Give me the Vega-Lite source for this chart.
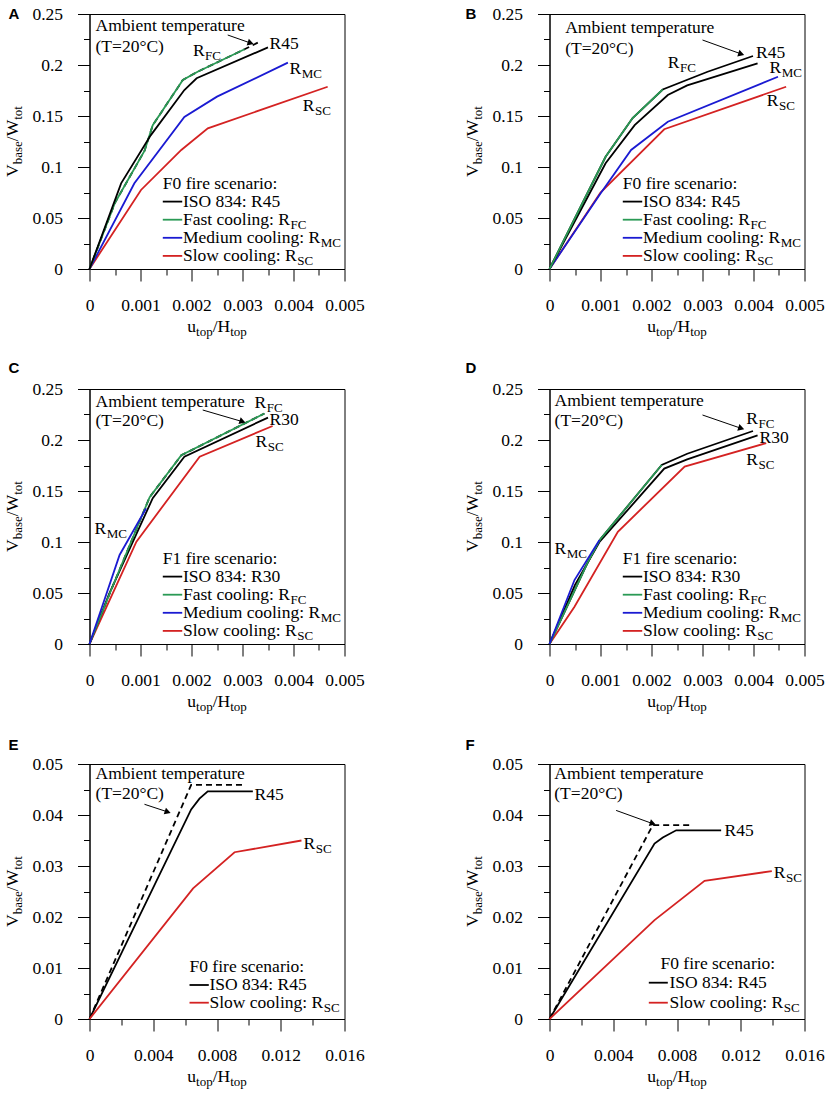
{
  "$schema": "https://vega.github.io/schema/vega-lite/v6.json",
  "background": "white",
  "padding": {"left": 2.5, "top": 4, "right": 5, "bottom": 5},
  "columns": 2,
  "spacing": {"row": 120, "column": 205},
  "bounds": "flush",
  "datasets": {
    "A_lines": [
      {"s": "amb", "x": 0, "y": 0}, {"s": "amb", "x": 0.0005, "y": 0.065}, {"s": "amb", "x": 0.00108, "y": 0.116}, {"s": "amb", "x": 0.00124, "y": 0.141}, {"s": "amb", "x": 0.00183, "y": 0.1853}, {"s": "amb", "x": 0.00212, "y": 0.1934}, {"s": "amb", "x": 0.00304, "y": 0.2154}, {"s": "amb", "x": 0.0033, "y": 0.2219},
      {"s": "sc", "x": 0, "y": 0}, {"s": "sc", "x": 0.00101, "y": 0.0775}, {"s": "sc", "x": 0.0018, "y": 0.1167}, {"s": "sc", "x": 0.00232, "y": 0.1379}, {"s": "sc", "x": 0.00467, "y": 0.1787},
      {"s": "mc", "x": 0, "y": 0}, {"s": "mc", "x": 0.00088, "y": 0.084}, {"s": "mc", "x": 0.00186, "y": 0.149}, {"s": "mc", "x": 0.0025, "y": 0.169}, {"s": "mc", "x": 0.00389, "y": 0.2023},
      {"s": "fc", "x": 0, "y": 0}, {"s": "fc", "x": 0.0005, "y": 0.065}, {"s": "fc", "x": 0.00108, "y": 0.116}, {"s": "fc", "x": 0.00124, "y": 0.141}, {"s": "fc", "x": 0.00183, "y": 0.1853}, {"s": "fc", "x": 0.00212, "y": 0.1934}, {"s": "fc", "x": 0.00304, "y": 0.2154},
      {"s": "iso", "x": 0, "y": 0}, {"s": "iso", "x": 0.00062, "y": 0.084}, {"s": "iso", "x": 0.0012, "y": 0.131}, {"s": "iso", "x": 0.00186, "y": 0.1755}, {"s": "iso", "x": 0.0021, "y": 0.187}, {"s": "iso", "x": 0.0035, "y": 0.2173}
    ],
    "B_lines": [
      {"s": "amb", "x": 0, "y": 0}, {"s": "amb", "x": 0.0011, "y": 0.11}, {"s": "amb", "x": 0.00163, "y": 0.148}, {"s": "amb", "x": 0.00222, "y": 0.176}, {"s": "amb", "x": 0.0031, "y": 0.1934}, {"s": "amb", "x": 0.00399, "y": 0.2088},
      {"s": "sc", "x": 0, "y": 0}, {"s": "sc", "x": 0.001, "y": 0.075}, {"s": "sc", "x": 0.00225, "y": 0.137}, {"s": "sc", "x": 0.00464, "y": 0.1787},
      {"s": "mc", "x": 0, "y": 0}, {"s": "mc", "x": 0.001, "y": 0.074}, {"s": "mc", "x": 0.0016, "y": 0.1167}, {"s": "mc", "x": 0.00232, "y": 0.1444}, {"s": "mc", "x": 0.00448, "y": 0.1885},
      {"s": "iso", "x": 0, "y": 0}, {"s": "iso", "x": 0.0011, "y": 0.1036}, {"s": "iso", "x": 0.00167, "y": 0.141}, {"s": "iso", "x": 0.00232, "y": 0.1706}, {"s": "iso", "x": 0.0027, "y": 0.18}, {"s": "iso", "x": 0.00408, "y": 0.2016},
      {"s": "fc", "x": 0, "y": 0}, {"s": "fc", "x": 0.0011, "y": 0.11}, {"s": "fc", "x": 0.00163, "y": 0.148}, {"s": "fc", "x": 0.00222, "y": 0.176}
    ],
    "C_lines": [
      {"s": "amb", "x": 0, "y": 0}, {"s": "amb", "x": 0.0004, "y": 0.05}, {"s": "amb", "x": 0.00118, "y": 0.144}, {"s": "amb", "x": 0.0018, "y": 0.185}, {"s": "amb", "x": 0.00343, "y": 0.226},
      {"s": "sc", "x": 0, "y": 0}, {"s": "sc", "x": 0.00092, "y": 0.1003}, {"s": "sc", "x": 0.00216, "y": 0.1837}, {"s": "sc", "x": 0.00359, "y": 0.2137},
      {"s": "iso", "x": 0, "y": 0}, {"s": "iso", "x": 0.00039, "y": 0.0497}, {"s": "iso", "x": 0.00124, "y": 0.143}, {"s": "iso", "x": 0.00186, "y": 0.1837}, {"s": "iso", "x": 0.0035, "y": 0.222},
      {"s": "fc", "x": 0, "y": 0}, {"s": "fc", "x": 0.0004, "y": 0.05}, {"s": "fc", "x": 0.00118, "y": 0.144}, {"s": "fc", "x": 0.0018, "y": 0.185}, {"s": "fc", "x": 0.00343, "y": 0.226},
      {"s": "mc", "x": 0, "y": 0}, {"s": "mc", "x": 0.00059, "y": 0.0873}, {"s": "mc", "x": 0.00111, "y": 0.133}
    ],
    "D_lines": [
      {"s": "amb", "x": 0, "y": 0}, {"s": "amb", "x": 0.00075, "y": 0.08}, {"s": "amb", "x": 0.001, "y": 0.103}, {"s": "amb", "x": 0.0022, "y": 0.1755}, {"s": "amb", "x": 0.0027, "y": 0.1865}, {"s": "amb", "x": 0.00399, "y": 0.2088},
      {"s": "sc", "x": 0, "y": 0}, {"s": "sc", "x": 0.00049, "y": 0.0366}, {"s": "sc", "x": 0.00134, "y": 0.11}, {"s": "sc", "x": 0.00265, "y": 0.174}, {"s": "sc", "x": 0.00425, "y": 0.197},
      {"s": "iso", "x": 0, "y": 0}, {"s": "iso", "x": 0.0005, "y": 0.058}, {"s": "iso", "x": 0.00098, "y": 0.1}, {"s": "iso", "x": 0.00225, "y": 0.172}, {"s": "iso", "x": 0.0027, "y": 0.181}, {"s": "iso", "x": 0.00408, "y": 0.2045},
      {"s": "fc", "x": 0, "y": 0}, {"s": "fc", "x": 0.00075, "y": 0.08}, {"s": "fc", "x": 0.001, "y": 0.103}, {"s": "fc", "x": 0.0022, "y": 0.1755},
      {"s": "mc", "x": 0, "y": 0}, {"s": "mc", "x": 0.00049, "y": 0.0627}, {"s": "mc", "x": 0.00098, "y": 0.102}
    ],
    "E_lines": [
      {"s": "amb", "x": 0, "y": 0}, {"s": "amb", "x": 0.00638, "y": 0.0459}, {"s": "amb", "x": 0.0098, "y": 0.0459},
      {"s": "iso", "x": 0, "y": 0}, {"s": "iso", "x": 0.00638, "y": 0.0411}, {"s": "iso", "x": 0.0069, "y": 0.0432}, {"s": "iso", "x": 0.00742, "y": 0.04465}, {"s": "iso", "x": 0.01025, "y": 0.04465},
      {"s": "sc", "x": 0, "y": 0}, {"s": "sc", "x": 0.0065, "y": 0.0256}, {"s": "sc", "x": 0.0091, "y": 0.0327}, {"s": "sc", "x": 0.0133, "y": 0.035}
    ],
    "F_lines": [
      {"s": "amb", "x": 0, "y": 0}, {"s": "amb", "x": 0.00648, "y": 0.038}, {"s": "amb", "x": 0.00889, "y": 0.038},
      {"s": "iso", "x": 0, "y": 0}, {"s": "iso", "x": 0.00659, "y": 0.0344}, {"s": "iso", "x": 0.00711, "y": 0.0356}, {"s": "iso", "x": 0.00795, "y": 0.037}, {"s": "iso", "x": 0.01077, "y": 0.037},
      {"s": "sc", "x": 0, "y": 0}, {"s": "sc", "x": 0.00659, "y": 0.0194}, {"s": "sc", "x": 0.00973, "y": 0.0271}, {"s": "sc", "x": 0.01395, "y": 0.029}
    ],
    "AD_leg": [
      {"s": "iso", "x": 0.001437, "x2": 0.001818, "y": 0.06608},
      {"s": "fc", "x": 0.001437, "x2": 0.001818, "y": 0.04833},
      {"s": "mc", "x": 0.001437, "x2": 0.001818, "y": 0.03059},
      {"s": "sc", "x": 0.001437, "x2": 0.001818, "y": 0.01284}
    ],
    "E_leg": [
      {"s": "iso", "x": 0.006275, "x2": 0.007485, "y": 0.006667},
      {"s": "sc", "x": 0.006275, "x2": 0.007485, "y": 0.003196}
    ],
    "F_leg": [
      {"s": "iso", "x": 0.006231, "x2": 0.007423, "y": 0.007118},
      {"s": "sc", "x": 0.006231, "x2": 0.007423, "y": 0.003196}
    ],
    "A_arr": [{"x": 0.00271, "y": 0.2294, "e": 0}, {"x": 0.00316, "y": 0.2215, "e": 1}],
    "B_arr": [{"x": 0.003, "y": 0.2245, "e": 0}, {"x": 0.00376, "y": 0.2108, "e": 1}],
    "C_arr": [{"x": 0.00222, "y": 0.2294, "e": 0}, {"x": 0.003, "y": 0.218, "e": 1}],
    "D_arr": [{"x": 0.003, "y": 0.2245, "e": 0}, {"x": 0.00376, "y": 0.2114, "e": 1}],
    "E_arr": [{"x": 0.00345, "y": 0.0421, "e": 0}, {"x": 0.00491, "y": 0.0406, "e": 1}],
    "F_arr": [{"x": 0.00418, "y": 0.0409, "e": 0}, {"x": 0.00648, "y": 0.0383, "e": 1}],
    "A_txt": [
      {"p": "L", "x": -0.001588, "y": 0.25, "t": "A"},
      {"p": "yt", "x": -0.001504, "y": 0.0903, "t": "V"}, {"p": "ys", "x": -0.001504, "y": 0.1027, "t": "base"}, {"p": "yt", "x": -0.001504, "y": 0.1253, "t": "/W"}, {"p": "ys", "x": -0.001504, "y": 0.1463, "t": "tot"},
      {"p": "t", "x": 0.001918, "y": -0.05686, "t": "u"}, {"p": "s", "x": 0.002089, "y": -0.05686, "t": "top"}, {"p": "t", "x": 0.002415, "y": -0.05686, "t": "/H"}, {"p": "s", "x": 0.002758, "y": -0.05686, "t": "top"},
      {"p": "t", "x": 0.000118, "y": 0.2382, "t": "Ambient temperature"},
      {"p": "t", "x": 0.000118, "y": 0.218, "t": "(T=20°C)"},
      {"p": "t", "x": 0.00203, "y": 0.2135, "t": "R"}, {"p": "s", "x": 0.002264, "y": 0.2135, "t": "FC"},
      {"p": "t", "x": 0.00353, "y": 0.2205, "t": "R45"},
      {"p": "t", "x": 0.00392, "y": 0.196, "t": "R"}, {"p": "s", "x": 0.00416, "y": 0.196, "t": "MC"},
      {"p": "t", "x": 0.00418, "y": 0.16, "t": "R"}, {"p": "s", "x": 0.004421, "y": 0.16, "t": "SC"},
      {"p": "t", "x": 0.001437, "y": 0.0838, "t": "F0 fire scenario:"},
      {"p": "t", "x": 0.001833, "y": 0.06608, "t": "ISO 834: R45"},
      {"p": "t", "x": 0.001833, "y": 0.04833, "t": "Fast cooling: R"}, {"p": "s", "x": 0.003941, "y": 0.04833, "t": "FC"},
      {"p": "t", "x": 0.001833, "y": 0.03059, "t": "Medium cooling: R"}, {"p": "s", "x": 0.004532, "y": 0.03059, "t": "MC"},
      {"p": "t", "x": 0.001833, "y": 0.01284, "t": "Slow cooling: R"}, {"p": "s", "x": 0.004075, "y": 0.01284, "t": "SC"}
    ],
    "B_txt": [
      {"p": "L", "x": -0.001647, "y": 0.25, "t": "B"},
      {"p": "yt", "x": -0.001504, "y": 0.0903, "t": "V"}, {"p": "ys", "x": -0.001504, "y": 0.1027, "t": "base"}, {"p": "yt", "x": -0.001504, "y": 0.1253, "t": "/W"}, {"p": "ys", "x": -0.001504, "y": 0.1463, "t": "tot"},
      {"p": "t", "x": 0.001918, "y": -0.05686, "t": "u"}, {"p": "s", "x": 0.002089, "y": -0.05686, "t": "top"}, {"p": "t", "x": 0.002415, "y": -0.05686, "t": "/H"}, {"p": "s", "x": 0.002758, "y": -0.05686, "t": "top"},
      {"p": "t", "x": 0.000308, "y": 0.236, "t": "Ambient temperature"},
      {"p": "t", "x": 0.000308, "y": 0.216, "t": "(T=20°C)"},
      {"p": "t", "x": 0.00232, "y": 0.2016, "t": "R"}, {"p": "s", "x": 0.002558, "y": 0.2016, "t": "FC"},
      {"p": "t", "x": 0.00405, "y": 0.2114, "t": "R45"},
      {"p": "t", "x": 0.004314, "y": 0.1967, "t": "R"}, {"p": "s", "x": 0.004553, "y": 0.1967, "t": "MC"},
      {"p": "t", "x": 0.00426, "y": 0.165, "t": "R"}, {"p": "s", "x": 0.004499, "y": 0.165, "t": "SC"},
      {"p": "t", "x": 0.001437, "y": 0.0838, "t": "F0 fire scenario:"},
      {"p": "t", "x": 0.001833, "y": 0.06608, "t": "ISO 834: R45"},
      {"p": "t", "x": 0.001833, "y": 0.04833, "t": "Fast cooling: R"}, {"p": "s", "x": 0.003941, "y": 0.04833, "t": "FC"},
      {"p": "t", "x": 0.001833, "y": 0.03059, "t": "Medium cooling: R"}, {"p": "s", "x": 0.004532, "y": 0.03059, "t": "MC"},
      {"p": "t", "x": 0.001833, "y": 0.01284, "t": "Slow cooling: R"}, {"p": "s", "x": 0.004075, "y": 0.01284, "t": "SC"}
    ],
    "C_txt": [
      {"p": "L", "x": -0.001588, "y": 0.2706, "t": "C"},
      {"p": "yt", "x": -0.001504, "y": 0.0903, "t": "V"}, {"p": "ys", "x": -0.001504, "y": 0.1027, "t": "base"}, {"p": "yt", "x": -0.001504, "y": 0.1253, "t": "/W"}, {"p": "ys", "x": -0.001504, "y": 0.1463, "t": "tot"},
      {"p": "t", "x": 0.001918, "y": -0.05686, "t": "u"}, {"p": "s", "x": 0.002089, "y": -0.05686, "t": "top"}, {"p": "t", "x": 0.002415, "y": -0.05686, "t": "/H"}, {"p": "s", "x": 0.002758, "y": -0.05686, "t": "top"},
      {"p": "t", "x": 0.000118, "y": 0.2375, "t": "Ambient temperature"},
      {"p": "t", "x": 0.000118, "y": 0.2186, "t": "(T=20°C)"},
      {"p": "t", "x": 0.003235, "y": 0.2366, "t": "R"}, {"p": "s", "x": 0.003474, "y": 0.2366, "t": "FC"},
      {"p": "t", "x": 0.00353, "y": 0.2196, "t": "R30"},
      {"p": "t", "x": 0.003255, "y": 0.198, "t": "R"}, {"p": "s", "x": 0.003494, "y": 0.198, "t": "SC"},
      {"p": "t", "x": 0.000098, "y": 0.113, "t": "R"}, {"p": "s", "x": 0.000337, "y": 0.113, "t": "MC"},
      {"p": "t", "x": 0.001437, "y": 0.0838, "t": "F1 fire scenario:"},
      {"p": "t", "x": 0.001833, "y": 0.06608, "t": "ISO 834: R30"},
      {"p": "t", "x": 0.001833, "y": 0.04833, "t": "Fast cooling: R"}, {"p": "s", "x": 0.003941, "y": 0.04833, "t": "FC"},
      {"p": "t", "x": 0.001833, "y": 0.03059, "t": "Medium cooling: R"}, {"p": "s", "x": 0.004532, "y": 0.03059, "t": "MC"},
      {"p": "t", "x": 0.001833, "y": 0.01284, "t": "Slow cooling: R"}, {"p": "s", "x": 0.004075, "y": 0.01284, "t": "SC"}
    ],
    "D_txt": [
      {"p": "L", "x": -0.001647, "y": 0.2706, "t": "D"},
      {"p": "yt", "x": -0.001504, "y": 0.0903, "t": "V"}, {"p": "ys", "x": -0.001504, "y": 0.1027, "t": "base"}, {"p": "yt", "x": -0.001504, "y": 0.1253, "t": "/W"}, {"p": "ys", "x": -0.001504, "y": 0.1463, "t": "tot"},
      {"p": "t", "x": 0.001918, "y": -0.05686, "t": "u"}, {"p": "s", "x": 0.002089, "y": -0.05686, "t": "top"}, {"p": "t", "x": 0.002415, "y": -0.05686, "t": "/H"}, {"p": "s", "x": 0.002758, "y": -0.05686, "t": "top"},
      {"p": "t", "x": 0.0001, "y": 0.238, "t": "Ambient temperature"},
      {"p": "t", "x": 0.0001, "y": 0.2186, "t": "(T=20°C)"},
      {"p": "t", "x": 0.00386, "y": 0.2206, "t": "R"}, {"p": "s", "x": 0.004099, "y": 0.2206, "t": "FC"},
      {"p": "t", "x": 0.00412, "y": 0.2016, "t": "R30"},
      {"p": "t", "x": 0.00386, "y": 0.18, "t": "R"}, {"p": "s", "x": 0.004099, "y": 0.18, "t": "SC"},
      {"p": "t", "x": 0.0001, "y": 0.0928, "t": "R"}, {"p": "s", "x": 0.000339, "y": 0.0928, "t": "MC"},
      {"p": "t", "x": 0.001437, "y": 0.0838, "t": "F1 fire scenario:"},
      {"p": "t", "x": 0.001833, "y": 0.06608, "t": "ISO 834: R30"},
      {"p": "t", "x": 0.001833, "y": 0.04833, "t": "Fast cooling: R"}, {"p": "s", "x": 0.003941, "y": 0.04833, "t": "FC"},
      {"p": "t", "x": 0.001833, "y": 0.03059, "t": "Medium cooling: R"}, {"p": "s", "x": 0.004532, "y": 0.03059, "t": "MC"},
      {"p": "t", "x": 0.001833, "y": 0.01284, "t": "Slow cooling: R"}, {"p": "s", "x": 0.004075, "y": 0.01284, "t": "SC"}
    ],
    "E_txt": [
      {"p": "L", "x": -0.005082, "y": 0.05373, "t": "E"},
      {"p": "yt", "x": -0.004813, "y": 0.01806, "t": "V"}, {"p": "ys", "x": -0.004813, "y": 0.02054, "t": "base"}, {"p": "yt", "x": -0.004813, "y": 0.02507, "t": "/W"}, {"p": "ys", "x": -0.004813, "y": 0.02926, "t": "tot"},
      {"p": "t", "x": 0.006137, "y": -0.01137, "t": "u"}, {"p": "s", "x": 0.006686, "y": -0.01137, "t": "top"}, {"p": "t", "x": 0.007727, "y": -0.01137, "t": "/H"}, {"p": "s", "x": 0.008825, "y": -0.01137, "t": "top"},
      {"p": "t", "x": 0.00038, "y": 0.0481, "t": "Ambient temperature"},
      {"p": "t", "x": 0.00038, "y": 0.0441, "t": "(T=20°C)"},
      {"p": "t", "x": 0.01035, "y": 0.0439, "t": "R45"},
      {"p": "t", "x": 0.01343, "y": 0.0344, "t": "R"}, {"p": "s", "x": 0.01419, "y": 0.0344, "t": "SC"},
      {"p": "t", "x": 0.006275, "y": 0.010255, "t": "F0 fire scenario:"},
      {"p": "t", "x": 0.007529, "y": 0.006667, "t": "ISO 834: R45"},
      {"p": "t", "x": 0.007529, "y": 0.003196, "t": "Slow cooling: R"}, {"p": "s", "x": 0.0147, "y": 0.003196, "t": "SC"}
    ],
    "F_txt": [
      {"p": "L", "x": -0.005271, "y": 0.05373, "t": "F"},
      {"p": "yt", "x": -0.004813, "y": 0.01806, "t": "V"}, {"p": "ys", "x": -0.004813, "y": 0.02054, "t": "base"}, {"p": "yt", "x": -0.004813, "y": 0.02507, "t": "/W"}, {"p": "ys", "x": -0.004813, "y": 0.02926, "t": "tot"},
      {"p": "t", "x": 0.006137, "y": -0.01137, "t": "u"}, {"p": "s", "x": 0.006686, "y": -0.01137, "t": "top"}, {"p": "t", "x": 0.007727, "y": -0.01137, "t": "/H"}, {"p": "s", "x": 0.008825, "y": -0.01137, "t": "top"},
      {"p": "t", "x": 0.0003, "y": 0.0481, "t": "Ambient temperature"},
      {"p": "t", "x": 0.0003, "y": 0.0441, "t": "(T=20°C)"},
      {"p": "t", "x": 0.01098, "y": 0.0369, "t": "R45"},
      {"p": "t", "x": 0.01407, "y": 0.0286, "t": "R"}, {"p": "s", "x": 0.01484, "y": 0.0286, "t": "SC"},
      {"p": "t", "x": 0.006965, "y": 0.010784, "t": "F0 fire scenario:"},
      {"p": "t", "x": 0.007529, "y": 0.007118, "t": "ISO 834: R45"},
      {"p": "t", "x": 0.007529, "y": 0.003196, "t": "Slow cooling: R"}, {"p": "s", "x": 0.0147, "y": 0.003196, "t": "SC"}
    ]
  },
  "concat": [
    {
      "width": 255, "height": 255,
      "encoding": {
        "x": {"field": "x", "type": "quantitative", "scale": {"domain": [0, 0.005], "nice": false, "zero": false},
              "axis": {"title": null, "values": [0, 0.0005, 0.001, 0.0015, 0.002, 0.0025, 0.003, 0.0035, 0.004, 0.0045, 0.005], "labelExpr": "abs(datum.value*1000-round(datum.value*1000))<0.01 ? format(datum.value,'~g') : ''", "tickSize": {"condition": {"test": "abs(datum.value*1000-round(datum.value*1000))<0.01", "value": 12}, "value": 6}, "labelPadding": 15}},
        "y": {"field": "y", "type": "quantitative", "scale": {"domain": [0, 0.25], "nice": false, "zero": false},
              "axis": {"title": null, "values": [0, 0.025, 0.05, 0.075, 0.1, 0.125, 0.15, 0.175, 0.2, 0.225, 0.25], "labelExpr": "abs(datum.value*20-round(datum.value*20))<0.01 ? format(datum.value,'~g') : ''", "tickSize": {"condition": {"test": "abs(datum.value*20-round(datum.value*20))<0.01", "value": 12}, "value": 6}, "labelPadding": 15}}
      },
      "layer": [
        {"data": {"name": "A_lines"}, "transform": [{"filter": "datum.s == 'amb'"}], "mark": {"type": "line", "color": "black", "strokeWidth": 1.8, "strokeDash": [6, 4]}, "encoding": {}},
        {"data": {"name": "A_lines"}, "transform": [{"filter": "datum.s != 'amb'"}], "mark": {"type": "line", "strokeWidth": 1.8},
         "encoding": {"color": {"field": "s", "type": "nominal", "scale": {"domain": ["iso", "fc", "mc", "sc"], "range": ["#000000", "#2a9a55", "#1a1ad2", "#d42222"]}, "legend": null}}},
        {"data": {"name": "AD_leg"}, "mark": {"type": "rule", "strokeWidth": 1.8},
         "encoding": {"x2": {"field": "x2"}, "color": {"field": "s", "type": "nominal", "legend": null}}},
        {"data": {"name": "A_arr"}, "mark": {"type": "line", "color": "black", "strokeWidth": 1}, "encoding": {}},
        {"data": {"name": "A_arr"}, "transform": [{"filter": "datum.e == 1"}], "mark": {"type": "point", "shape": "triangle-right", "filled": true, "color": "black", "opacity": 1, "size": 50, "angle": 18}},
        {"data": {"name": "A_txt"}, "transform": [{"filter": "datum.p == 't'"}], "mark": {"type": "text", "font": "Liberation Serif", "fontSize": 17.5, "align": "left", "baseline": "middle", "color": "black"}, "encoding": {"text": {"field": "t"}}},
        {"data": {"name": "A_txt"}, "transform": [{"filter": "datum.p == 's'"}], "mark": {"type": "text", "font": "Liberation Serif", "fontSize": 13, "align": "left", "baseline": "middle", "dy": 5, "color": "black"}, "encoding": {"text": {"field": "t"}}},
        {"data": {"name": "A_txt"}, "transform": [{"filter": "datum.p == 'yt'"}], "mark": {"type": "text", "font": "Liberation Serif", "fontSize": 17.5, "align": "left", "baseline": "middle", "angle": 270, "color": "black"}, "encoding": {"text": {"field": "t"}}},
        {"data": {"name": "A_txt"}, "transform": [{"filter": "datum.p == 'ys'"}], "mark": {"type": "text", "font": "Liberation Serif", "fontSize": 13, "align": "left", "baseline": "middle", "angle": 270, "dy": 5, "color": "black"}, "encoding": {"text": {"field": "t"}}},
        {"data": {"name": "A_txt"}, "transform": [{"filter": "datum.p == 'L'"}], "mark": {"type": "text", "font": "Liberation Sans", "fontSize": 15, "fontWeight": "bold", "align": "left", "baseline": "middle", "color": "black"}, "encoding": {"text": {"field": "t"}}}
      ]
    },
    {
      "width": 255, "height": 255,
      "encoding": {
        "x": {"field": "x", "type": "quantitative", "scale": {"domain": [0, 0.005], "nice": false, "zero": false},
              "axis": {"title": null, "values": [0, 0.0005, 0.001, 0.0015, 0.002, 0.0025, 0.003, 0.0035, 0.004, 0.0045, 0.005], "labelExpr": "abs(datum.value*1000-round(datum.value*1000))<0.01 ? format(datum.value,'~g') : ''", "tickSize": {"condition": {"test": "abs(datum.value*1000-round(datum.value*1000))<0.01", "value": 12}, "value": 6}, "labelPadding": 15}},
        "y": {"field": "y", "type": "quantitative", "scale": {"domain": [0, 0.25], "nice": false, "zero": false},
              "axis": {"title": null, "values": [0, 0.025, 0.05, 0.075, 0.1, 0.125, 0.15, 0.175, 0.2, 0.225, 0.25], "labelExpr": "abs(datum.value*20-round(datum.value*20))<0.01 ? format(datum.value,'~g') : ''", "tickSize": {"condition": {"test": "abs(datum.value*20-round(datum.value*20))<0.01", "value": 12}, "value": 6}, "labelPadding": 15}}
      },
      "layer": [
        {"data": {"name": "B_lines"}, "transform": [{"filter": "datum.s == 'amb'"}], "mark": {"type": "line", "color": "black", "strokeWidth": 1.8}, "encoding": {}},
        {"data": {"name": "B_lines"}, "transform": [{"filter": "datum.s != 'amb'"}], "mark": {"type": "line", "strokeWidth": 1.8},
         "encoding": {"color": {"field": "s", "type": "nominal", "scale": {"domain": ["iso", "fc", "mc", "sc"], "range": ["#000000", "#2a9a55", "#1a1ad2", "#d42222"]}, "legend": null}}},
        {"data": {"name": "AD_leg"}, "mark": {"type": "rule", "strokeWidth": 1.8},
         "encoding": {"x2": {"field": "x2"}, "color": {"field": "s", "type": "nominal", "legend": null}}},
        {"data": {"name": "B_arr"}, "mark": {"type": "line", "color": "black", "strokeWidth": 1}, "encoding": {}},
        {"data": {"name": "B_arr"}, "transform": [{"filter": "datum.e == 1"}], "mark": {"type": "point", "shape": "triangle-right", "filled": true, "color": "black", "opacity": 1, "size": 50, "angle": 18}},
        {"data": {"name": "B_txt"}, "transform": [{"filter": "datum.p == 't'"}], "mark": {"type": "text", "font": "Liberation Serif", "fontSize": 17.5, "align": "left", "baseline": "middle", "color": "black"}, "encoding": {"text": {"field": "t"}}},
        {"data": {"name": "B_txt"}, "transform": [{"filter": "datum.p == 's'"}], "mark": {"type": "text", "font": "Liberation Serif", "fontSize": 13, "align": "left", "baseline": "middle", "dy": 5, "color": "black"}, "encoding": {"text": {"field": "t"}}},
        {"data": {"name": "B_txt"}, "transform": [{"filter": "datum.p == 'yt'"}], "mark": {"type": "text", "font": "Liberation Serif", "fontSize": 17.5, "align": "left", "baseline": "middle", "angle": 270, "color": "black"}, "encoding": {"text": {"field": "t"}}},
        {"data": {"name": "B_txt"}, "transform": [{"filter": "datum.p == 'ys'"}], "mark": {"type": "text", "font": "Liberation Serif", "fontSize": 13, "align": "left", "baseline": "middle", "angle": 270, "dy": 5, "color": "black"}, "encoding": {"text": {"field": "t"}}},
        {"data": {"name": "B_txt"}, "transform": [{"filter": "datum.p == 'L'"}], "mark": {"type": "text", "font": "Liberation Sans", "fontSize": 15, "fontWeight": "bold", "align": "left", "baseline": "middle", "color": "black"}, "encoding": {"text": {"field": "t"}}}
      ]
    },
    {
      "width": 255, "height": 255,
      "encoding": {
        "x": {"field": "x", "type": "quantitative", "scale": {"domain": [0, 0.005], "nice": false, "zero": false},
              "axis": {"title": null, "values": [0, 0.0005, 0.001, 0.0015, 0.002, 0.0025, 0.003, 0.0035, 0.004, 0.0045, 0.005], "labelExpr": "abs(datum.value*1000-round(datum.value*1000))<0.01 ? format(datum.value,'~g') : ''", "tickSize": {"condition": {"test": "abs(datum.value*1000-round(datum.value*1000))<0.01", "value": 12}, "value": 6}, "labelPadding": 15}},
        "y": {"field": "y", "type": "quantitative", "scale": {"domain": [0, 0.25], "nice": false, "zero": false},
              "axis": {"title": null, "values": [0, 0.025, 0.05, 0.075, 0.1, 0.125, 0.15, 0.175, 0.2, 0.225, 0.25], "labelExpr": "abs(datum.value*20-round(datum.value*20))<0.01 ? format(datum.value,'~g') : ''", "tickSize": {"condition": {"test": "abs(datum.value*20-round(datum.value*20))<0.01", "value": 12}, "value": 6}, "labelPadding": 15}}
      },
      "layer": [
        {"data": {"name": "C_lines"}, "transform": [{"filter": "datum.s == 'amb'"}], "mark": {"type": "line", "color": "black", "strokeWidth": 1.8, "strokeDash": [6, 4]}, "encoding": {}},
        {"data": {"name": "C_lines"}, "transform": [{"filter": "datum.s != 'amb'"}], "mark": {"type": "line", "strokeWidth": 1.8},
         "encoding": {"color": {"field": "s", "type": "nominal", "scale": {"domain": ["iso", "fc", "mc", "sc"], "range": ["#000000", "#2a9a55", "#1a1ad2", "#d42222"]}, "legend": null}}},
        {"data": {"name": "AD_leg"}, "mark": {"type": "rule", "strokeWidth": 1.8},
         "encoding": {"x2": {"field": "x2"}, "color": {"field": "s", "type": "nominal", "legend": null}}},
        {"data": {"name": "C_arr"}, "mark": {"type": "line", "color": "black", "strokeWidth": 1}, "encoding": {}},
        {"data": {"name": "C_arr"}, "transform": [{"filter": "datum.e == 1"}], "mark": {"type": "point", "shape": "triangle-right", "filled": true, "color": "black", "opacity": 1, "size": 50, "angle": 18}},
        {"data": {"name": "C_txt"}, "transform": [{"filter": "datum.p == 't'"}], "mark": {"type": "text", "font": "Liberation Serif", "fontSize": 17.5, "align": "left", "baseline": "middle", "color": "black"}, "encoding": {"text": {"field": "t"}}},
        {"data": {"name": "C_txt"}, "transform": [{"filter": "datum.p == 's'"}], "mark": {"type": "text", "font": "Liberation Serif", "fontSize": 13, "align": "left", "baseline": "middle", "dy": 5, "color": "black"}, "encoding": {"text": {"field": "t"}}},
        {"data": {"name": "C_txt"}, "transform": [{"filter": "datum.p == 'yt'"}], "mark": {"type": "text", "font": "Liberation Serif", "fontSize": 17.5, "align": "left", "baseline": "middle", "angle": 270, "color": "black"}, "encoding": {"text": {"field": "t"}}},
        {"data": {"name": "C_txt"}, "transform": [{"filter": "datum.p == 'ys'"}], "mark": {"type": "text", "font": "Liberation Serif", "fontSize": 13, "align": "left", "baseline": "middle", "angle": 270, "dy": 5, "color": "black"}, "encoding": {"text": {"field": "t"}}},
        {"data": {"name": "C_txt"}, "transform": [{"filter": "datum.p == 'L'"}], "mark": {"type": "text", "font": "Liberation Sans", "fontSize": 15, "fontWeight": "bold", "align": "left", "baseline": "middle", "color": "black"}, "encoding": {"text": {"field": "t"}}}
      ]
    },
    {
      "width": 255, "height": 255,
      "encoding": {
        "x": {"field": "x", "type": "quantitative", "scale": {"domain": [0, 0.005], "nice": false, "zero": false},
              "axis": {"title": null, "values": [0, 0.0005, 0.001, 0.0015, 0.002, 0.0025, 0.003, 0.0035, 0.004, 0.0045, 0.005], "labelExpr": "abs(datum.value*1000-round(datum.value*1000))<0.01 ? format(datum.value,'~g') : ''", "tickSize": {"condition": {"test": "abs(datum.value*1000-round(datum.value*1000))<0.01", "value": 12}, "value": 6}, "labelPadding": 15}},
        "y": {"field": "y", "type": "quantitative", "scale": {"domain": [0, 0.25], "nice": false, "zero": false},
              "axis": {"title": null, "values": [0, 0.025, 0.05, 0.075, 0.1, 0.125, 0.15, 0.175, 0.2, 0.225, 0.25], "labelExpr": "abs(datum.value*20-round(datum.value*20))<0.01 ? format(datum.value,'~g') : ''", "tickSize": {"condition": {"test": "abs(datum.value*20-round(datum.value*20))<0.01", "value": 12}, "value": 6}, "labelPadding": 15}}
      },
      "layer": [
        {"data": {"name": "D_lines"}, "transform": [{"filter": "datum.s == 'amb'"}], "mark": {"type": "line", "color": "black", "strokeWidth": 1.8}, "encoding": {}},
        {"data": {"name": "D_lines"}, "transform": [{"filter": "datum.s != 'amb'"}], "mark": {"type": "line", "strokeWidth": 1.8},
         "encoding": {"color": {"field": "s", "type": "nominal", "scale": {"domain": ["iso", "fc", "mc", "sc"], "range": ["#000000", "#2a9a55", "#1a1ad2", "#d42222"]}, "legend": null}}},
        {"data": {"name": "AD_leg"}, "mark": {"type": "rule", "strokeWidth": 1.8},
         "encoding": {"x2": {"field": "x2"}, "color": {"field": "s", "type": "nominal", "legend": null}}},
        {"data": {"name": "D_arr"}, "mark": {"type": "line", "color": "black", "strokeWidth": 1}, "encoding": {}},
        {"data": {"name": "D_arr"}, "transform": [{"filter": "datum.e == 1"}], "mark": {"type": "point", "shape": "triangle-right", "filled": true, "color": "black", "opacity": 1, "size": 50, "angle": 18}},
        {"data": {"name": "D_txt"}, "transform": [{"filter": "datum.p == 't'"}], "mark": {"type": "text", "font": "Liberation Serif", "fontSize": 17.5, "align": "left", "baseline": "middle", "color": "black"}, "encoding": {"text": {"field": "t"}}},
        {"data": {"name": "D_txt"}, "transform": [{"filter": "datum.p == 's'"}], "mark": {"type": "text", "font": "Liberation Serif", "fontSize": 13, "align": "left", "baseline": "middle", "dy": 5, "color": "black"}, "encoding": {"text": {"field": "t"}}},
        {"data": {"name": "D_txt"}, "transform": [{"filter": "datum.p == 'yt'"}], "mark": {"type": "text", "font": "Liberation Serif", "fontSize": 17.5, "align": "left", "baseline": "middle", "angle": 270, "color": "black"}, "encoding": {"text": {"field": "t"}}},
        {"data": {"name": "D_txt"}, "transform": [{"filter": "datum.p == 'ys'"}], "mark": {"type": "text", "font": "Liberation Serif", "fontSize": 13, "align": "left", "baseline": "middle", "angle": 270, "dy": 5, "color": "black"}, "encoding": {"text": {"field": "t"}}},
        {"data": {"name": "D_txt"}, "transform": [{"filter": "datum.p == 'L'"}], "mark": {"type": "text", "font": "Liberation Sans", "fontSize": 15, "fontWeight": "bold", "align": "left", "baseline": "middle", "color": "black"}, "encoding": {"text": {"field": "t"}}}
      ]
    },
    {
      "width": 255, "height": 255,
      "encoding": {
        "x": {"field": "x", "type": "quantitative", "scale": {"domain": [0, 0.016], "nice": false, "zero": false},
              "axis": {"title": null, "values": [0, 0.002, 0.004, 0.006, 0.008, 0.01, 0.012, 0.014, 0.016], "labelExpr": "abs(datum.value*250-round(datum.value*250))<0.01 ? format(datum.value,'~g') : ''", "tickSize": {"condition": {"test": "abs(datum.value*250-round(datum.value*250))<0.01", "value": 12}, "value": 6}, "labelPadding": 15}},
        "y": {"field": "y", "type": "quantitative", "scale": {"domain": [0, 0.05], "nice": false, "zero": false},
              "axis": {"title": null, "values": [0, 0.005, 0.01, 0.015, 0.02, 0.025, 0.03, 0.035, 0.04, 0.045, 0.05], "labelExpr": "abs(datum.value*100-round(datum.value*100))<0.01 ? format(datum.value,'~g') : ''", "tickSize": {"condition": {"test": "abs(datum.value*100-round(datum.value*100))<0.01", "value": 12}, "value": 6}, "labelPadding": 15}}
      },
      "layer": [
        {"data": {"name": "E_lines"}, "transform": [{"filter": "datum.s == 'amb'"}], "mark": {"type": "line", "color": "black", "strokeWidth": 1.8, "strokeDash": [6, 4]}, "encoding": {}},
        {"data": {"name": "E_lines"}, "transform": [{"filter": "datum.s != 'amb'"}], "mark": {"type": "line", "strokeWidth": 1.8},
         "encoding": {"color": {"field": "s", "type": "nominal", "scale": {"domain": ["iso", "sc"], "range": ["#000000", "#d42222"]}, "legend": null}}},
        {"data": {"name": "E_leg"}, "mark": {"type": "rule", "strokeWidth": 1.8},
         "encoding": {"x2": {"field": "x2"}, "color": {"field": "s", "type": "nominal", "legend": null}}},
        {"data": {"name": "E_arr"}, "mark": {"type": "line", "color": "black", "strokeWidth": 1}, "encoding": {}},
        {"data": {"name": "E_arr"}, "transform": [{"filter": "datum.e == 1"}], "mark": {"type": "point", "shape": "triangle-right", "filled": true, "color": "black", "opacity": 1, "size": 50, "angle": 18}},
        {"data": {"name": "E_txt"}, "transform": [{"filter": "datum.p == 't'"}], "mark": {"type": "text", "font": "Liberation Serif", "fontSize": 17.5, "align": "left", "baseline": "middle", "color": "black"}, "encoding": {"text": {"field": "t"}}},
        {"data": {"name": "E_txt"}, "transform": [{"filter": "datum.p == 's'"}], "mark": {"type": "text", "font": "Liberation Serif", "fontSize": 13, "align": "left", "baseline": "middle", "dy": 5, "color": "black"}, "encoding": {"text": {"field": "t"}}},
        {"data": {"name": "E_txt"}, "transform": [{"filter": "datum.p == 'yt'"}], "mark": {"type": "text", "font": "Liberation Serif", "fontSize": 17.5, "align": "left", "baseline": "middle", "angle": 270, "color": "black"}, "encoding": {"text": {"field": "t"}}},
        {"data": {"name": "E_txt"}, "transform": [{"filter": "datum.p == 'ys'"}], "mark": {"type": "text", "font": "Liberation Serif", "fontSize": 13, "align": "left", "baseline": "middle", "angle": 270, "dy": 5, "color": "black"}, "encoding": {"text": {"field": "t"}}},
        {"data": {"name": "E_txt"}, "transform": [{"filter": "datum.p == 'L'"}], "mark": {"type": "text", "font": "Liberation Sans", "fontSize": 15, "fontWeight": "bold", "align": "left", "baseline": "middle", "color": "black"}, "encoding": {"text": {"field": "t"}}}
      ]
    },
    {
      "width": 255, "height": 255,
      "encoding": {
        "x": {"field": "x", "type": "quantitative", "scale": {"domain": [0, 0.016], "nice": false, "zero": false},
              "axis": {"title": null, "values": [0, 0.002, 0.004, 0.006, 0.008, 0.01, 0.012, 0.014, 0.016], "labelExpr": "abs(datum.value*250-round(datum.value*250))<0.01 ? format(datum.value,'~g') : ''", "tickSize": {"condition": {"test": "abs(datum.value*250-round(datum.value*250))<0.01", "value": 12}, "value": 6}, "labelPadding": 15}},
        "y": {"field": "y", "type": "quantitative", "scale": {"domain": [0, 0.05], "nice": false, "zero": false},
              "axis": {"title": null, "values": [0, 0.005, 0.01, 0.015, 0.02, 0.025, 0.03, 0.035, 0.04, 0.045, 0.05], "labelExpr": "abs(datum.value*100-round(datum.value*100))<0.01 ? format(datum.value,'~g') : ''", "tickSize": {"condition": {"test": "abs(datum.value*100-round(datum.value*100))<0.01", "value": 12}, "value": 6}, "labelPadding": 15}}
      },
      "layer": [
        {"data": {"name": "F_lines"}, "transform": [{"filter": "datum.s == 'amb'"}], "mark": {"type": "line", "color": "black", "strokeWidth": 1.8, "strokeDash": [6, 4]}, "encoding": {}},
        {"data": {"name": "F_lines"}, "transform": [{"filter": "datum.s != 'amb'"}], "mark": {"type": "line", "strokeWidth": 1.8},
         "encoding": {"color": {"field": "s", "type": "nominal", "scale": {"domain": ["iso", "sc"], "range": ["#000000", "#d42222"]}, "legend": null}}},
        {"data": {"name": "F_leg"}, "mark": {"type": "rule", "strokeWidth": 1.8},
         "encoding": {"x2": {"field": "x2"}, "color": {"field": "s", "type": "nominal", "legend": null}}},
        {"data": {"name": "F_arr"}, "mark": {"type": "line", "color": "black", "strokeWidth": 1}, "encoding": {}},
        {"data": {"name": "F_arr"}, "transform": [{"filter": "datum.e == 1"}], "mark": {"type": "point", "shape": "triangle-right", "filled": true, "color": "black", "opacity": 1, "size": 50, "angle": 18}},
        {"data": {"name": "F_txt"}, "transform": [{"filter": "datum.p == 't'"}], "mark": {"type": "text", "font": "Liberation Serif", "fontSize": 17.5, "align": "left", "baseline": "middle", "color": "black"}, "encoding": {"text": {"field": "t"}}},
        {"data": {"name": "F_txt"}, "transform": [{"filter": "datum.p == 's'"}], "mark": {"type": "text", "font": "Liberation Serif", "fontSize": 13, "align": "left", "baseline": "middle", "dy": 5, "color": "black"}, "encoding": {"text": {"field": "t"}}},
        {"data": {"name": "F_txt"}, "transform": [{"filter": "datum.p == 'yt'"}], "mark": {"type": "text", "font": "Liberation Serif", "fontSize": 17.5, "align": "left", "baseline": "middle", "angle": 270, "color": "black"}, "encoding": {"text": {"field": "t"}}},
        {"data": {"name": "F_txt"}, "transform": [{"filter": "datum.p == 'ys'"}], "mark": {"type": "text", "font": "Liberation Serif", "fontSize": 13, "align": "left", "baseline": "middle", "angle": 270, "dy": 5, "color": "black"}, "encoding": {"text": {"field": "t"}}},
        {"data": {"name": "F_txt"}, "transform": [{"filter": "datum.p == 'L'"}], "mark": {"type": "text", "font": "Liberation Sans", "fontSize": 15, "fontWeight": "bold", "align": "left", "baseline": "middle", "color": "black"}, "encoding": {"text": {"field": "t"}}}
      ]
    }
  ],
  "config": {
    "view": {"stroke": "black", "strokeWidth": 1},
    "axis": {"grid": false, "domainColor": "black", "domainWidth": 1, "tickColor": "black", "tickWidth": 1, "labelColor": "black", "labelFont": "Liberation Serif", "labelFontSize": 17.5, "labelOverlap": false, "labelFlush": false}
  }
}
